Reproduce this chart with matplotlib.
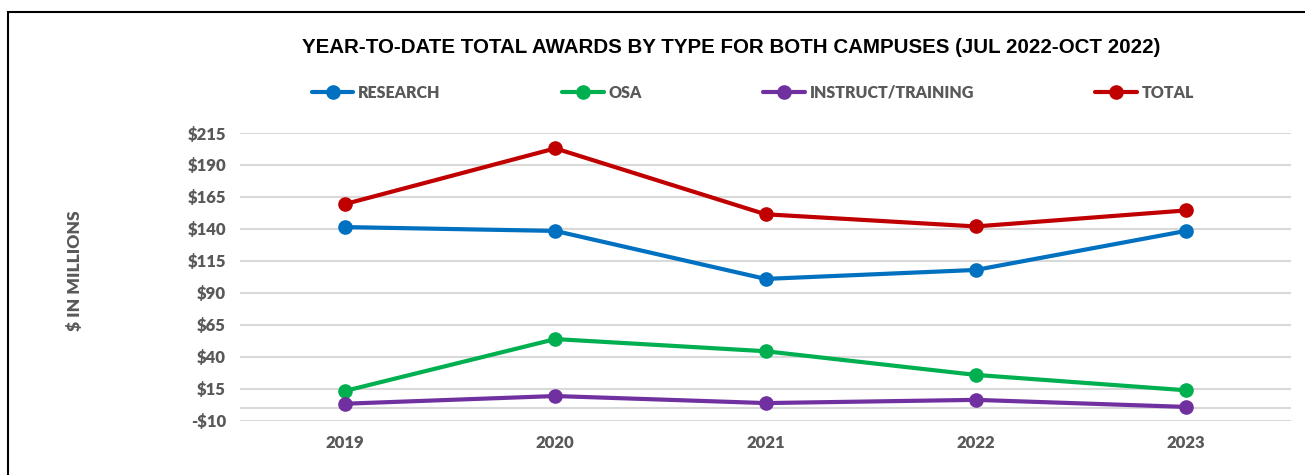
import matplotlib.pyplot as plt
from matplotlib.patches import Rectangle

years = ['2019', '2020', '2021', '2022', '2023']
research = [141.5, 138.5, 101, 108, 138.5]
osa = [13.5, 54, 44.5, 26, 14]
instruct = [3.5, 9.5, 4, 6.5, 1]
total = [159.5, 203, 151.5, 142, 154.5]

series_names = ['RESEARCH', 'OSA', 'INSTRUCT/TRAINING', 'TOTAL']
series_colors = ['#0070C0', '#00B050', '#7030A0', '#C00000']

gray = '#595959'

fig = plt.figure(figsize=(13.05, 4.75), dpi=100)
ax = fig.add_axes([0.1839, 0.1137, 0.8054, 0.6063])

x = range(len(years))
for vals, name, col in zip([research, osa, instruct, total], series_names, series_colors):
    ax.plot(x, vals, color=col, lw=3, marker='o', markersize=9.5, label=name,
            solid_capstyle='round')

ax.set_xlim(-0.5, len(years) - 0.5)
ax.set_ylim(-10, 215)
yt = list(range(-10, 216, 25))
ax.set_yticks(yt)
ax.set_yticklabels([('-$%d' % -v) if v < 0 else ('$%d' % v) for v in yt])
ax.set_xticks(list(x))
ax.set_xticklabels(years)
ax.grid(axis='y', color='#d9d9d9', lw=1.5)
ax.axhline(0, color='#d9d9d9', lw=1.5, zorder=0)
ax.set_axisbelow(True)
for s in ax.spines.values():
    s.set_visible(False)
ax.tick_params(length=0, labelsize=12, labelcolor=gray, pad=10)
for lab in ax.get_xticklabels() + ax.get_yticklabels():
    lab.set_fontfamily('Lato')
    lab.set_fontweight('heavy')

fig.text(0.0575, 0.43, '$ IN MILLIONS', rotation=90, ha='center', va='center',
         fontsize=12.5, fontweight='heavy', color=gray, family='Lato')

fig.text(0.5605, 0.90, 'YEAR-TO-DATE TOTAL AWARDS BY TYPE FOR BOTH CAMPUSES (JUL 2022-OCT 2022)',
         ha='center', va='center', fontsize=14.8, fontweight='bold', color='black',
         family='Liberation Sans')

leg = fig.legend(loc='center', bbox_to_anchor=(0.577, 0.805), ncol=4, frameon=False,
                 prop={'family': 'Lato', 'weight': 'heavy', 'size': 11.5},
                 columnspacing=7.6, handlelength=2.6, handletextpad=0.3)
for t in leg.get_texts():
    t.set_color(gray)

fig.patches.append(Rectangle((8 / 1305, -0.1), 1.2, (469 - 6) / 475 + 0.1,
                             transform=fig.transFigure, fill=False,
                             edgecolor='black', lw=1.5))

fig.savefig('out.png', dpi=100)
